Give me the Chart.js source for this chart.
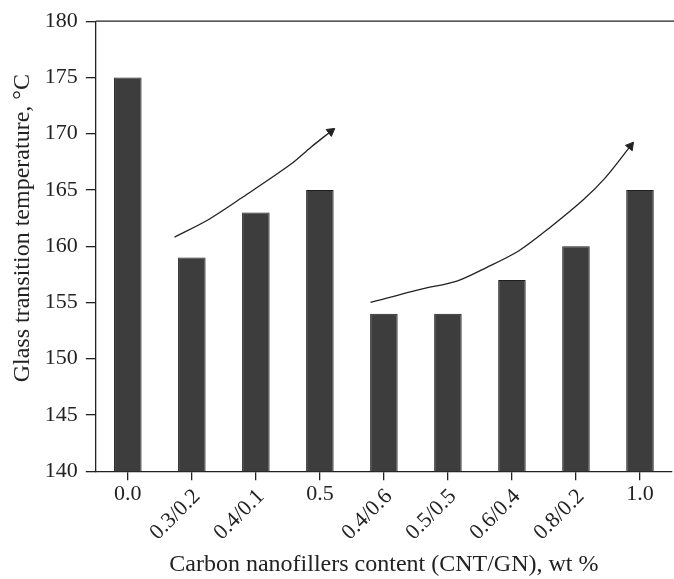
<!DOCTYPE html>
<html>
<head>
<meta charset="utf-8">
<script src="https://cdn.jsdelivr.net/npm/chart.js@4/dist/chart.umd.min.js"></script>
<style>
  html, body { margin: 0; padding: 0; overflow: hidden; background: #fff; }
</style>
</head>
<body>
<canvas id="chart" width="678" height="579"></canvas>
<script>
// data
const CATEGORIES = ['0.0', '0.3/0.2', '0.4/0.1', '0.5', '0.4/0.6', '0.5/0.5', '0.6/0.4', '0.8/0.2', '1.0'];
const TG_VALUES = [175, 159, 163, 165, 154, 154, 157, 160, 165];

// hand-drawn trend arrows, x in category index units
const ARROW1_X = [0.73, 1.27, 1.78, 2.55, 2.86, 3.17];
const ARROW1_Y = [160.8, 162.4, 164.3, 167.3, 168.8, 170.2];
const ARROW2_X = [3.79, 4.60, 5.14, 5.60, 6.11, 6.58, 7.11, 7.46, 7.85];
const ARROW2_Y = [155.0, 156.2, 156.9, 158.1, 159.6, 161.6, 164.1, 166.1, 168.9];

const Y_MIN = 140;
const Y_MAX = 180;

const FONT = '"Liberation Serif", "Times New Roman", serif';
const INK = '#222';

function toPoints(xs, ys) {
    return xs.map((x, i) => ({x: x, y: ys[i]}));
}

function arrowDataset(xs, ys, angle) {
    const last = xs.length - 1;
    return {
        type: 'line',
        data: toPoints(xs, ys),
        borderColor: INK,
        backgroundColor: INK,
        borderWidth: 1.3,
        tension: 0.3,
        pointStyle: 'triangle',
        pointRadius: xs.map((_, i) => i === last ? 5 : 0),
        pointRotation: angle,
        pointBorderWidth: 1,
    };
}

// top frame line and the mixed horizontal / slanted category labels
const framePlugin = {
    id: 'frame',
    afterDraw(chart) {
        const {ctx, chartArea} = chart;
        const xScale = chart.scales.x;

        ctx.save();
        ctx.strokeStyle = INK;
        ctx.lineWidth = 1.3;
        ctx.beginPath();
        ctx.moveTo(chartArea.left, chartArea.top);
        ctx.lineTo(chart.width, chartArea.top);
        ctx.stroke();

        ctx.fillStyle = INK;
        ctx.font = `22px ${FONT}`;
        CATEGORIES.forEach((label, i) => {
            const px = xScale.getPixelForValue(i);
            if (label.length <= 3) {
                ctx.textAlign = 'center';
                ctx.textBaseline = 'top';
                ctx.fillText(label, px, chartArea.bottom + 12);
            } else {
                ctx.save();
                ctx.translate(px + 5, chartArea.bottom + 22);
                ctx.rotate(-Math.PI / 4);
                ctx.textAlign = 'right';
                ctx.textBaseline = 'middle';
                ctx.fillText(label, 0, 0);
                ctx.restore();
            }
        });
        ctx.restore();
    }
};

new Chart(document.getElementById('chart'), {
    type: 'bar',
    data: {
        datasets: [
            {
                data: toPoints(CATEGORIES.map((_, i) => i), TG_VALUES),
                backgroundColor: '#3d3d3d',
                borderColor: '#1e1e1e',
                borderWidth: 1,
                grouped: false,
                categoryPercentage: 1,
                barPercentage: 0.43,
            },
            arrowDataset(ARROW1_X, ARROW1_Y, 53),
            arrowDataset(ARROW2_X, ARROW2_Y, 38),
        ]
    },
    options: {
        responsive: false,
        animation: false,
        layout: {padding: {top: 20, right: 0, left: 0, bottom: 0}},
        plugins: {
            legend: {display: false},
            tooltip: {enabled: false},
        },
        scales: {
            x: {
                type: 'linear',
                offset: false,
                min: -0.5,
                max: CATEGORIES.length - 0.5,
                afterBuildTicks: scale => {
                    scale.ticks = CATEGORIES.map((_, i) => ({value: i}));
                },
                grid: {display: true, drawOnChartArea: false, offset: false, tickLength: 9, color: INK, lineWidth: 1.3},
                border: {display: true, color: INK, width: 1.3},
                ticks: {display: false},
                title: {
                    display: true,
                    text: 'Carbon nanofillers content (CNT/GN), wt %',
                    color: INK,
                    font: {family: FONT, size: 24},
                    padding: {top: 70, bottom: 0},
                },
            },
            y: {
                min: Y_MIN,
                max: Y_MAX,
                grid: {display: true, drawOnChartArea: false, tickLength: 10, color: INK, lineWidth: 1.3},
                border: {display: true, color: INK, width: 1.3},
                ticks: {
                    stepSize: 2.5,
                    padding: 8,
                    color: INK,
                    font: {family: FONT, size: 22},
                    callback: v => (v % 5 === 0 ? v : ''),
                },
                title: {
                    display: true,
                    text: '\u2002\u2002\u2002Glass transition temperature, °C',
                    color: INK,
                    font: {family: FONT, size: 24},
                    padding: {top: 8, bottom: 0},
                },
            },
        },
    },
    plugins: [framePlugin],
});
</script>
</body>
</html>
